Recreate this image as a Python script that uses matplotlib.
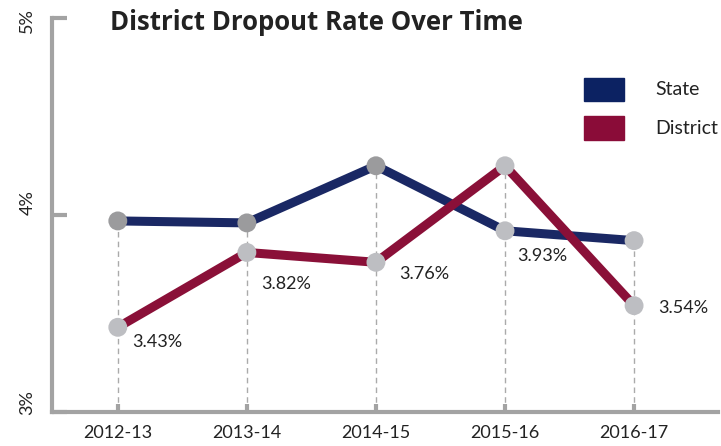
import matplotlib
matplotlib.use("Agg")
import matplotlib.pyplot as plt
from matplotlib.patches import Rectangle

plt.rcParams['font.family'] = ['Lato', 'DejaVu Sans']

# data
years = ["2012-13", "2013-14", "2014-15", "2015-16", "2016-17"]
state = [3.97, 3.96, 4.25, 3.92, 3.87]
district = [3.43, 3.81, 3.76, 4.25, 3.54]
labels = ["3.43%", "3.82%", "3.76%", "3.93%", "3.54%"]
label_at = [3.43, 3.81, 3.76, 3.92, 3.54]
y_ticks = [3, 4, 5]
y_labels = ["3%", "4%", "5%"]

navy = '#1a2864'
maroon = '#8a1038'
axis_grey = '#a3a3a3'
text_col = '#222222'

fig = plt.figure(figsize=(7.21, 4.46), dpi=100)
ax = fig.add_axes([0.0721, 0.0762, 0.9237, 0.8834])

x = list(range(len(years)))

# dashed drop lines
tops = [max(s, d) for s, d in zip(state, district)]
ax.vlines(x, 3, tops, colors='#aaaaaa', linestyles=(0, (4, 3)), lw=1, zorder=1)

ax.plot(x, state, color=navy, lw=6.5, solid_capstyle='butt', zorder=2)
ax.plot(x, district, color=maroon, lw=6.5, solid_capstyle='butt', zorder=3)

# markers
state_marker = ['#9b9b9d', '#9b9b9d', '#9b9b9d', '#bdbec2', '#bdbec2']
ax.scatter(x, state, s=185, c=state_marker, edgecolors='none', zorder=4)
ax.scatter(x, district, s=185, c='#bdbec2', edgecolors='none', zorder=4)

# value labels
offsets = [(10, -10.5), (10, -23), (17, -8.5), (9, -18), (17, -2)]
for xi, v, t, off in zip(x, label_at, labels, offsets):
    ax.annotate(t, (xi, v), xytext=off, textcoords='offset points',
                ha='left', va='center', fontsize=13, color=text_col)

ax.set_xlim(-0.51, 4.65)
ax.set_ylim(3, 5)

for side in ['top', 'right']:
    ax.spines[side].set_visible(False)
for side in ['left', 'bottom']:
    ax.spines[side].set_color(axis_grey)
    ax.spines[side].set_linewidth(3)

ax.set_xticks(x)
ax.set_xticklabels(years, fontsize=13, color=text_col)
ax.set_yticks(y_ticks)
ax.set_yticklabels([])
ax.tick_params(axis='y', direction='in', length=11, width=3,
               color=axis_grey)
ax.tick_params(axis='x', direction='in', length=6, width=3,
               color=axis_grey, pad=9)

# rotated y labels, nudged like the original
y_shift = [7, 9, -2]
for v, t, dy in zip(y_ticks, y_labels, y_shift):
    ax.annotate(t, (0, v), xycoords=('axes fraction', 'data'),
                xytext=(-12, dy), textcoords='offset points',
                rotation=90, ha='right', va='center', fontsize=13,
                color=text_col)

fig.text(0.152, 0.950, "District Dropout Rate Over Time", fontsize=18.5,
         fontweight='bold', family=['Open Sans', 'DejaVu Sans'],
         color=text_col, ha='left', va='center')

# legend
fig.add_artist(Rectangle((0.810, 0.7735), 0.0555, 0.0516,
                         transform=fig.transFigure, color='#0c2262'))
fig.add_artist(Rectangle((0.810, 0.686), 0.0555, 0.0538,
                         transform=fig.transFigure, color='#8a0c38'))
fig.text(0.909, 0.800, "State", fontsize=14, color=text_col, va='center')
fig.text(0.909, 0.713, "District", fontsize=14, color=text_col, va='center')

fig.savefig("out.png", dpi=100)
